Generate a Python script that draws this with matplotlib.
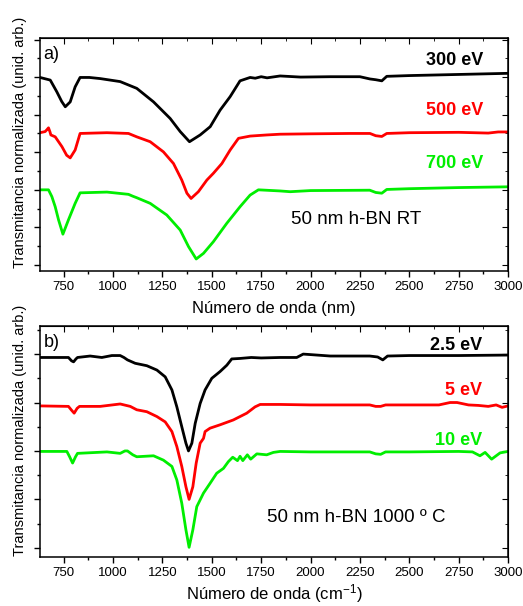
import matplotlib
matplotlib.use('Agg')
import matplotlib.pyplot as plt
from matplotlib.ticker import MultipleLocator, NullFormatter

plt.rcParams['font.family'] = ['Liberation Sans', 'DejaVu Sans']
plt.rcParams['mathtext.fontset'] = 'custom'
plt.rcParams['mathtext.rm'] = 'Liberation Sans'
plt.rcParams['mathtext.default'] = 'regular'

# ---- datos (a) h-BN RT ----
black_a_x = [630, 682, 715, 740, 758, 783, 808, 833, 880, 935, 1036, 1120, 1205, 1289, 1340, 1387, 1441,
             1492, 1542, 1593, 1643, 1694, 1720, 1750, 1780, 1846, 1950, 2100, 2250, 2301, 2330, 2361,
             2386, 2500, 2750, 3000]
black_a_y = [4.99, 4.92, 4.61, 4.35, 4.21, 4.34, 4.74, 4.99, 4.99, 4.96, 4.88, 4.70, 4.34, 3.90, 3.55, 3.28,
             3.46, 3.68, 4.12, 4.48, 4.90, 4.99, 4.97, 5.01, 4.98, 5.03, 5.00, 5.01, 5.01, 4.95, 4.93, 4.90,
             5.02, 5.04, 5.07, 5.10]

red_a_x = [630, 656, 665, 673, 680, 685, 707, 741, 765, 783, 808, 833, 969, 1078, 1120, 1188, 1255, 1306,
           1348, 1374, 1395, 1432, 1475, 1508, 1551, 1593, 1635, 1694, 1778, 1846, 2000, 2200, 2301, 2330,
           2361, 2386, 2500, 2750, 2900, 2950, 3000]
red_a_y = [3.52, 3.55, 3.60, 3.65, 3.55, 3.46, 3.41, 3.15, 2.92, 2.85, 3.06, 3.50, 3.52, 3.50, 3.41, 3.28,
           3.01, 2.70, 2.26, 1.91, 1.77, 1.95, 2.26, 2.44, 2.70, 3.06, 3.37, 3.43, 3.46, 3.48, 3.49, 3.50,
           3.50, 3.44, 3.42, 3.50, 3.52, 3.53, 3.51, 3.54, 3.54]

green_a_x = [630, 673, 690, 707, 724, 746, 774, 808, 833, 969, 1078, 1100, 1120, 1188, 1272, 1340, 1382,
             1421, 1458, 1508, 1576, 1643, 1694, 1736, 1846, 1897, 2000, 2300, 2330, 2361, 2386, 2500,
             2750, 3000]
green_a_y = [2.0, 2.0, 1.82, 1.55, 1.20, 0.82, 1.20, 1.64, 1.92, 1.94, 1.88, 1.83, 1.79, 1.64, 1.33, 0.93,
             0.49, 0.16, 0.31, 0.62, 1.11, 1.55, 1.86, 2.0, 1.97, 1.95, 1.98, 1.99, 1.93, 1.91, 2.01, 2.03,
             2.06, 2.08]

# ---- datos (b) h-BN 1000 C ----
black_b_x = [630, 774, 790, 800, 812, 820, 884, 943, 994, 1036, 1055, 1073, 1112, 1171, 1222, 1264, 1298,
             1323, 1348, 1369, 1382, 1399, 1416, 1441, 1466, 1500, 1542, 1576, 1601, 1643, 1700, 1750,
             1846, 1930, 1963, 1998, 2100, 2300, 2340, 2366, 2390, 2500, 2750, 3000]
black_b_y = [3.93, 3.93, 3.86, 3.84, 3.90, 3.93, 3.96, 3.93, 3.97, 3.97, 3.93, 3.88, 3.81, 3.76, 3.67, 3.53,
             3.26, 2.91, 2.50, 2.16, 2.00, 2.16, 2.57, 2.98, 3.26, 3.50, 3.64, 3.77, 3.90, 3.91, 3.93, 3.92,
             3.93, 3.93, 4.00, 3.99, 3.96, 3.96, 3.94, 3.88, 3.96, 3.97, 3.97, 3.98]

red_b_x = [630, 774, 790, 803, 818, 830, 935, 1036, 1087, 1120, 1171, 1222, 1264, 1298, 1323, 1348, 1369,
           1385, 1404, 1421, 1441, 1458, 1466, 1491, 1542, 1609, 1677, 1719, 1745, 1846, 2000, 2300, 2330,
           2355, 2380, 2500, 2650, 2707, 2742, 2800, 2850, 2900, 2940, 2970, 3000]
red_b_y = [2.93, 2.92, 2.84, 2.78, 2.88, 2.92, 2.92, 2.97, 2.92, 2.85, 2.81, 2.71, 2.60, 2.40, 2.09, 1.68,
           1.26, 1.00, 1.26, 1.75, 2.16, 2.26, 2.40, 2.47, 2.54, 2.64, 2.78, 2.91, 2.96, 2.96, 2.95, 2.95,
           2.92, 2.92, 2.95, 2.95, 2.95, 3.00, 3.00, 2.95, 2.94, 2.92, 2.95, 2.90, 2.93]

green_b_x = [630, 766, 780, 795, 810, 820, 969, 1036, 1060, 1073, 1100, 1120, 1205, 1255, 1298, 1323, 1348,
             1369, 1385, 1404, 1424, 1458, 1491, 1525, 1559, 1584, 1606, 1630, 1643, 1657, 1680, 1697,
             1728, 1778, 1812, 1846, 2000, 2300, 2330, 2355, 2380, 2500, 2750, 2820, 2858, 2884, 2917,
             2960, 3000]
green_b_y = [1.99, 1.99, 1.88, 1.75, 1.88, 1.95, 1.98, 1.95, 2.00, 2.00, 1.92, 1.88, 1.90, 1.81, 1.68, 1.40,
             0.92, 0.37, 0.01, 0.37, 0.85, 1.13, 1.33, 1.54, 1.64, 1.78, 1.87, 1.80, 1.89, 1.80, 1.92, 1.83,
             1.94, 1.92, 1.97, 1.99, 1.98, 1.98, 1.94, 1.93, 1.98, 1.98, 1.99, 1.98, 1.90, 1.97, 1.83,
             1.96, 1.99]

colores = ['black', '#ff0000', '#00ee00']
etiquetas_a = ['300 eV', '500 eV', '700 eV']
etiquetas_b = ['2.5 eV', '5 eV', '10 eV']

W, H = 523, 606
fig = plt.figure(figsize=(W / 100, H / 100), dpi=100)


def caja(left, top, right, bottom):
    return [left / W, 1 - bottom / H, (right - left) / W, (bottom - top) / H]


ax1 = fig.add_axes(caja(40, 38, 508, 271))
ax2 = fig.add_axes(caja(40, 326, 508, 557))


def estilo(ax, ylim):
    ax.set_xlim(630, 3000)
    ax.set_ylim(*ylim)
    ax.xaxis.set_major_locator(MultipleLocator(250))
    ax.xaxis.set_minor_locator(MultipleLocator(125))
    ax.yaxis.set_major_locator(MultipleLocator(1))
    ax.yaxis.set_minor_locator(MultipleLocator(0.5))
    ax.yaxis.set_major_formatter(NullFormatter())
    ax.tick_params(which='major', direction='out', length=4, width=1, labelsize=9.5, pad=3)
    ax.tick_params(which='minor', direction='out', length=2.5, width=1)
    for s in ax.spines.values():
        s.set_linewidth(1.1)
    top = ax.secondary_xaxis('top')
    top.xaxis.set_major_locator(MultipleLocator(250))
    top.xaxis.set_minor_locator(MultipleLocator(125))
    top.tick_params(which='major', direction='in', length=4, labeltop=False)
    top.tick_params(which='minor', direction='in', length=2.5)
    right = ax.secondary_yaxis('right')
    right.yaxis.set_major_locator(MultipleLocator(1))
    right.yaxis.set_minor_locator(MultipleLocator(0.5))
    right.tick_params(which='major', direction='in', length=4, labelright=False)
    right.tick_params(which='minor', direction='in', length=2.5)


estilo(ax1, (-0.16, 6.04))
estilo(ax2, (-0.19, 4.58))

lw = 2.0
ax1.plot(black_a_x, black_a_y, color=colores[0], lw=lw)
ax1.plot(red_a_x, red_a_y, color=colores[1], lw=lw)
ax1.plot(green_a_x, green_a_y, color=colores[2], lw=lw)

ax2.plot(black_b_x, black_b_y, color=colores[0], lw=lw)
ax2.plot(red_b_x, red_b_y, color=colores[1], lw=lw)
ax2.plot(green_b_x, green_b_y, color=colores[2], lw=lw)

# etiquetas de energia
for txt, c, y in zip(etiquetas_a, colores, [5.45, 4.12, 2.71]):
    ax1.text(2873, y, txt, color=c, fontsize=13, fontweight='bold', ha='right', va='center')
for txt, c, y in zip(etiquetas_b, colores, [4.17, 3.24, 2.21]):
    ax2.text(2870, y, txt, color=c, fontsize=13, fontweight='bold', ha='right', va='center')

ax1.text(2231, 1.2, '50 nm h-BN RT', fontsize=13.5, ha='center', va='center')
ax2.text(2231, 0.62, '50 nm h-BN 1000 º C', fontsize=13.5, ha='center', va='center')

ax1.text(0.008, 0.93, 'a)', transform=ax1.transAxes, fontsize=13, ha='left', va='center')
ax2.text(0.008, 0.93, 'b)', transform=ax2.transAxes, fontsize=13, ha='left', va='center')

fig.text(274 / W, 1 - 309 / H, 'Número de onda (nm)', fontsize=12, ha='center', va='center')
fig.text(274 / W, 1 - 594 / H, 'Número de onda (cm$^{-1}$)', fontsize=12, ha='center', va='center')
fig.text(20 / W, 1 - 142 / H, 'Transmitancia normalizada (unid. arb.)', fontsize=10.5,
         rotation=90, ha='center', va='center')
fig.text(20 / W, 1 - 430 / H, 'Transmitancia normalizada (unid. arb.)', fontsize=10.5,
         rotation=90, ha='center', va='center')

fig.savefig('out.png', dpi=100)
